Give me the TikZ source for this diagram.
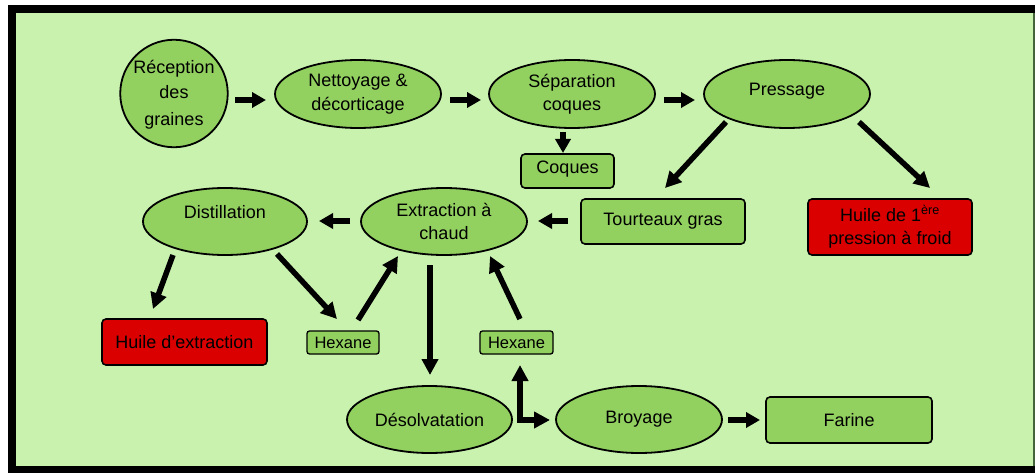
\documentclass[tikz,border=0pt]{standalone}
\usepackage{fontspec}
\setmainfont{Liberation Sans}
\usetikzlibrary{arrows.meta,shapes.geometric}
\definecolor{bgg}{RGB}{201,242,175}
\definecolor{ng}{RGB}{146,208,96}
\definecolor{rd}{RGB}{218,0,0}
\definecolor{edgeg}{RGB}{70,100,60}
\begin{document}
\begin{tikzpicture}[x=1pt,y=-1pt,
  txt/.style={font=\fontsize{18}{23.5}\selectfont, align=center, text=black},
  ell/.style={txt, ellipse, draw=black, line width=1.8pt, fill=ng, minimum width=166pt, minimum height=68pt, inner sep=0pt},
  box/.style={txt, rectangle, rounded corners=4pt, draw=black, line width=1.6pt, fill=ng, inner sep=0pt},
  redbox/.style={box, fill=rd},
  smallbox/.style={box, rounded corners=2.5pt, line width=1.3pt, font=\fontsize{16.5}{20}\selectfont, minimum width=73pt, minimum height=23pt},
  arr/.style={line width=5.5pt, -{Triangle[length=16pt,width=16pt]}},
  sarr/.style={line width=5.5pt, -{Triangle[length=14pt,width=15pt]}},
  darr/.style={line width=5.5pt, line join=miter, {Triangle[length=16pt,width=16pt]}-{Triangle[length=16pt,width=16pt]}}
]
\useasboundingbox (0,0) rectangle (1035,473);
\fill[black] (8,5) rectangle (1035,473);
\fill[bgg] (16,13) rectangle (1033,466);
\fill[edgeg] (1033,13) rectangle (1035,466);

% nodes
\node[txt, circle, draw=black, line width=1.8pt, fill=ng, minimum size=104pt, inner sep=0pt,
      font=\fontsize{18}{27}\selectfont] (rec) at (174,93.5) {\raisebox{-2pt}[0.75em][0.2em]{Réception}\\des\\graines};
\node[ell] (net) at (358,94) {Nettoyage \&\\décorticage};
\node[ell] (sep) at (572,94) {Séparation\\coques};
\node[ell] (pre) at (787,94) {\raisebox{3pt}[0.75em][0.2em]{Pressage}};
\node[box, minimum width=93pt, minimum height=34pt] (coq) at (567.5,171) {\raisebox{2pt}[0.75em][0.2em]{Coques}};
\node[box, minimum width=164pt, minimum height=45pt] (tou) at (663,221.5) {Tourteaux gras};
\node[redbox, minimum width=164pt, minimum height=56pt] (hu1) at (890,227) {Huile de 1\textsuperscript{ère}\\pression à froid};
\node[ell, minimum width=164pt, minimum height=67pt] (dis) at (225,221.5) {\raisebox{8pt}[0.75em][0.2em]{Distillation}};
\node[ell, minimum height=67pt] (ext) at (444,221.5) {Extraction à\\chaud};
\node[redbox, minimum width=165pt, minimum height=46pt] (hue) at (184.5,342) {Huile d’extraction};
\node[smallbox, minimum width=72pt] (hx1) at (343,342.5) {Hexane};
\node[smallbox] (hx2) at (516.5,342.5) {Hexane};
\node[ell, minimum width=165pt, minimum height=67pt] (des) at (429.5,419.5) {Désolvatation};
\node[ell, minimum height=67pt] (bro) at (639,419.5) {Broyage};
\node[box, minimum width=166pt, minimum height=46pt] (far) at (849,420) {Farine};

% connectors
\draw[sarr] ([shift={(61,6.5)}]rec.center) -- ([shift={(-92,6)}]net.center);
\draw[sarr] ([shift={(92,6)}]net.center) -- ([shift={(-91,6)}]sep.center);
\draw[sarr] ([shift={(92,6)}]sep.center) -- ([shift={(-92,6)}]pre.center);
\draw[sarr] ([shift={(-9,38)}]sep.center) -- ([shift={(-4.5,-18)}]coq.center);
\draw[arr] ([shift={(-61,28)}]pre.center) -- ([shift={(2,-33.5)}]tou.center);
\draw[arr] ([shift={(72,28)}]pre.center) -- ([shift={(40,-39)}]hu1.center);
\draw[sarr] ([shift={(-95,-0.5)}]tou.center) -- ([shift={(94,-0.5)}]ext.center);
\draw[sarr] ([shift={(-94,-0.5)}]ext.center) -- ([shift={(94,-0.5)}]dis.center);
\draw[arr] ([shift={(-52,33.5)}]dis.center) -- ([shift={(-31.5,-33)}]hue.center);
\draw[arr] ([shift={(52,32.5)}]dis.center) -- ([shift={(-6,-23.5)}]hx1.center);
\draw[arr] ([shift={(15,-22.5)}]hx1.center) -- ([shift={(-46,34.5)}]ext.center);
\draw[arr] ([shift={(-14,43.5)}]ext.center) -- ([shift={(0.5,-44.5)}]des.center);
\draw[arr] ([shift={(3.5,-23.5)}]hx2.center) -- ([shift={(46,34.5)}]ext.center);
\draw[darr] ([shift={(3.5,22.5)}]hx2.center) |- ([shift={(-89,0.5)}]bro.center);
\draw[sarr] ([shift={(89,0.5)}]bro.center) -- ([shift={(-89,0)}]far.center);
\end{tikzpicture}
\end{document}
